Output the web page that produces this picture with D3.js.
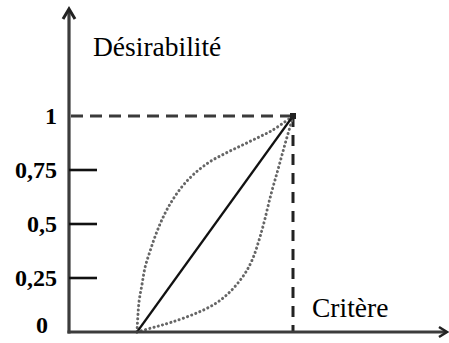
<!DOCTYPE html>
<html>
<head>
<meta charset="utf-8">
<script src="https://cdn.jsdelivr.net/npm/d3@7"></script>
<style>
  html, body { margin: 0; padding: 0; background: #fff; }
  svg { display: block; }
  text { font-family: "Liberation Serif", "Times New Roman", serif; fill: #000; }
</style>
</head>
<body>
<svg id="chart" width="449" height="343"></svg>
<script>
// ---- data ----
const yTicks = [0, 0.25, 0.5, 0.75, 1];
const yTickLabels = ["0", "0,25", "0,5", "0,75", "1"];
const yTitle = "Désirabilité";
const xTitle = "Critère";

// linear desirability
const linearX = [0, 1];
const linearY = [0, 1];

// concave (upper dotted) desirability
const concaveX = [0, 0.013, 0.032, 0.052, 0.084, 0.12, 0.16, 0.21, 0.28, 0.36, 0.46, 0.56, 0.66, 0.76, 0.87, 1];
const concaveY = [0, 0.14, 0.22, 0.30, 0.375, 0.45, 0.52, 0.59, 0.665, 0.728, 0.785, 0.825, 0.86, 0.895, 0.935, 1];

// convex (lower dotted) desirability
const convexX = [0, 0.084, 0.15, 0.22, 0.32, 0.42, 0.51, 0.58, 0.645, 0.70, 0.745, 0.78, 0.81, 0.86, 0.905, 0.945, 0.985, 1];
const convexY = [0, 0.017, 0.03, 0.045, 0.07, 0.10, 0.135, 0.175, 0.225, 0.28, 0.345, 0.42, 0.495, 0.64, 0.755, 0.86, 0.96, 1];

// ---- scales ----
const svg = d3.select("#chart");
const axisX0 = 69, axisY0 = 332;
const x = d3.scaleLinear().domain([0, 1]).range([137, 293]);
const y = d3.scaleLinear().domain([0, 1]).range([332, 116]);

const zip = (a, b) => a.map((v, i) => [v, b[i]]);
const line = d3.line().x(d => x(d[0])).y(d => y(d[1])).curve(d3.curveCatmullRom.alpha(0.5));

// ---- reference dashed lines at (1,1) ----
svg.append("line")
  .attr("x1", axisX0 + 2).attr("y1", y(1)).attr("x2", x(1)).attr("y2", y(1))
  .attr("stroke", "#3a3a3a").attr("stroke-width", 3).attr("stroke-dasharray", "12 7");
svg.append("line")
  .attr("x1", x(1)).attr("y1", y(1)).attr("x2", x(1)).attr("y2", y(0))
  .attr("stroke", "#222").attr("stroke-width", 3).attr("stroke-dasharray", "11 8");

// ---- curves ----
svg.append("path").datum(zip(concaveX, concaveY))
  .attr("d", line).attr("fill", "none")
  .attr("stroke", "#666").attr("stroke-width", 3)
  .attr("stroke-linecap", "round").attr("stroke-dasharray", "0.1 4.3");
svg.append("path").datum(zip(convexX, convexY))
  .attr("d", line).attr("fill", "none")
  .attr("stroke", "#666").attr("stroke-width", 3)
  .attr("stroke-linecap", "round").attr("stroke-dasharray", "0.1 4.3");
svg.append("path").datum(zip(linearX, linearY))
  .attr("d", d3.line().x(d => x(d[0])).y(d => y(d[1])))
  .attr("fill", "none").attr("stroke", "#111").attr("stroke-width", 2.2);

// corner marker
svg.append("rect").attr("x", x(1) - 3).attr("y", y(1) - 3).attr("width", 6).attr("height", 6).attr("fill", "#222");

// ---- axes ----
svg.append("line").attr("x1", axisX0).attr("y1", axisY0 + 1.5).attr("x2", axisX0).attr("y2", 10)
  .attr("stroke", "#3c3c3c").attr("stroke-width", 3.2);
svg.append("line").attr("x1", axisX0 - 1.5).attr("y1", axisY0).attr("x2", 445).attr("y2", axisY0)
  .attr("stroke", "#3c3c3c").attr("stroke-width", 3.2);
svg.append("path").attr("d", `M${axisX0 - 6},${19} L${axisX0},${9} L${axisX0 + 6},${19}`)
  .attr("fill", "none").attr("stroke", "#222").attr("stroke-width", 3).attr("stroke-linejoin", "miter");
svg.append("path").attr("d", `M439,${axisY0 - 5} L447,${axisY0} L439,${axisY0 + 5}`)
  .attr("fill", "none").attr("stroke", "#222").attr("stroke-width", 2.5);

// ticks
const mid = yTicks.filter(v => v > 0 && v < 1);
svg.selectAll(".tick").data(mid).enter().append("line")
  .attr("x1", axisX0).attr("x2", 97).attr("y1", d => y(d)).attr("y2", d => y(d))
  .attr("stroke", "#111").attr("stroke-width", 2.6);

// tick labels
svg.selectAll(".tl").data(yTicks).enter().append("text")
  .attr("x", d => d === 0 ? 48 : 57)
  .attr("y", d => d === 0 ? y(0) + 1 : y(d) + 8)
  .attr("text-anchor", "end")
  .attr("font-size", 24).attr("font-weight", "bold")
  .text((d, i) => yTickLabels[i]);

// titles
svg.append("text").attr("x", 93).attr("y", 56).attr("font-size", 27.5).text(yTitle);
svg.append("text").attr("x", 312).attr("y", 317).attr("font-size", 27.5).text(xTitle);
</script>
</body>
</html>
